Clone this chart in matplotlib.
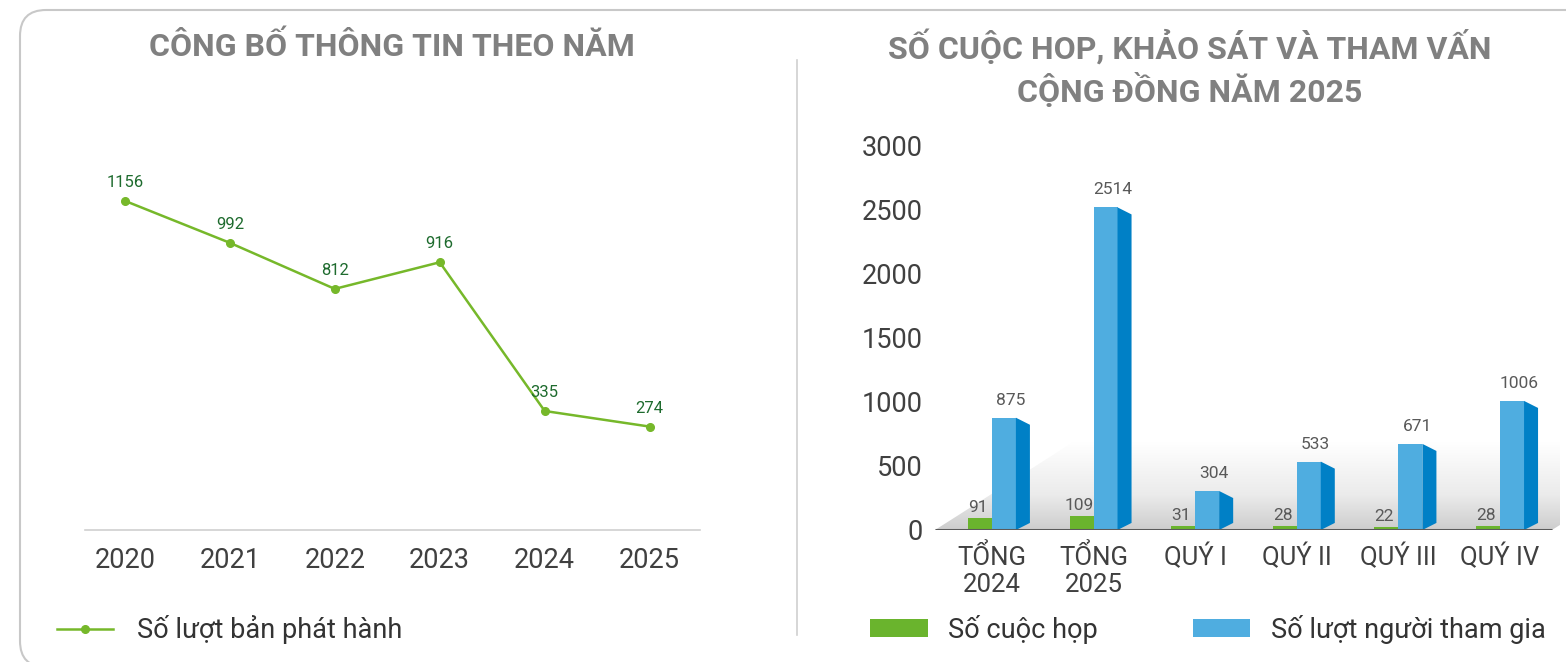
import numpy as np
import matplotlib.pyplot as plt
from matplotlib.patches import Polygon, FancyBboxPatch
from matplotlib.lines import Line2D
from matplotlib.colors import LinearSegmentedColormap
from matplotlib.transforms import IdentityTransform

plt.rcParams['font.family'] = ['Roboto', 'DejaVu Sans']

# left chart data
years = ['2020', '2021', '2022', '2023', '2024', '2025']
releases = [1156, 992, 812, 916, 335, 274]

# right chart data
groups = ['TỔNG\n2024', 'TỔNG\n2025', 'QUÝ I', 'QUÝ II', 'QUÝ III', 'QUÝ IV']
meetings = [91, 109, 31, 28, 22, 28]
participants = [875, 2514, 304, 533, 671, 1006]

W, H = 1566, 662
fig = plt.figure(figsize=(W / 100, H / 100), dpi=100)


def box(l, t, r, b):
    return [l / W, 1 - b / H, (r - l) / W, (b - t) / H]


# outer rounded frame
frame = FancyBboxPatch((20, -5), 1700, 657, boxstyle='round,pad=0,rounding_size=26',
                       transform=IdentityTransform(), fc='none', ec='#c8c8c8', lw=1.5)
fig.add_artist(frame)
fig.add_artist(Line2D([797 / W, 797 / W], [1 - 60 / H, 1 - 635 / H], color='#d0d0d0', lw=1.2))

# ---- left: line chart
ax1 = fig.add_axes(box(85, 100, 700, 530))
x = np.arange(len(years))
ax1.plot(x, releases, color='#76b82a', lw=1.8, marker='o', ms=5.5, label='Số lượt bản phát hành')
for xi, v in zip(x, releases):
    ax1.annotate(str(v), (xi, v), xytext=(0, 11), textcoords='offset pixels',
                 ha='center', va='bottom', fontsize=12, color='#1e6b2e')
ax1.set_xlim(-0.38, 5.48)
ax1.set_ylim(-130, 1550)
for s in ['top', 'left', 'right']:
    ax1.spines[s].set_visible(False)
ax1.spines['bottom'].set_color('#d0d0d0')
ax1.spines['bottom'].set_linewidth(1.2)
ax1.set_xticks(x, years)
ax1.set_yticks([])
ax1.tick_params(axis='x', length=0, pad=12, labelsize=19.5, labelcolor='#404040')
ax1.legend(loc='center left', bbox_to_anchor=(57 / W, 1 - 630 / H), bbox_transform=fig.transFigure,
           frameon=False, fontsize=19.5, labelcolor='#333333', handlelength=2.07,
           handletextpad=0.89, borderpad=0, borderaxespad=0)

fig.text(392 / W, 1 - 47 / H, 'CÔNG BỐ THÔNG TIN THEO NĂM', ha='center', va='center',
         fontsize=23, fontweight='bold', color='#808080')

# ---- right: pseudo-3D bars
ax2 = fig.add_axes(box(935, 145, 1560, 530))
xlo, xhi = -0.56, 5.59
w = 0.236
dx, dy = 0.138, 55
xg = x - w / 2
xb = x + w / 2

# floor with gradient
fh = 680
floor = Polygon([(xlo, 0), (xhi - 0.08, 0), (xhi + 1.3, fh), (xlo + 1.35, fh)],
                closed=True, fc='none', ec='none')
ax2.add_patch(floor)
cmap = LinearSegmentedColormap.from_list('floor', [(0, '#cdcdcd'), (0.4, '#ebebeb'), (1, '#ffffff')])
grad = np.linspace(0, 1, 256).reshape(-1, 1)
im = ax2.imshow(grad, cmap=cmap, extent=(xlo, xhi + 1.5, 0, fh), origin='lower',
                aspect='auto', zorder=1)
im.set_clip_path(floor)

ax2.bar(xg, meetings, w, color='#6ab42d', zorder=3, label='Số cuộc họp')
ax2.bar(xb, participants, w, color='#4fade0', zorder=3, label='Số lượt người tham gia')
for xi, v in zip(xb, participants):
    r = xi + w / 2
    ax2.add_patch(Polygon([(r, 0), (r, v), (r + dx, v - dy), (r + dx, dy)],
                          closed=True, fc='#0080c6', ec='none', zorder=3))
    ax2.annotate(str(v), (xi + dx / 2, v), xytext=(0, 10), textcoords='offset pixels',
                 ha='center', va='bottom', fontsize=12.5, color='#595959')
for xi, v in zip(xg, meetings):
    ax2.annotate(str(v), (xi - 0.02, v), xytext=(0, 3), textcoords='offset pixels',
                 ha='center', va='bottom', fontsize=12.5, color='#595959')
ax2.hlines(0, xlo, xhi - 0.08, color='#5a5a5a', lw=2.2, zorder=4)

ax2.set_xlim(xlo, xhi)
ax2.set_ylim(0, 3000)
for s in ax2.spines.values():
    s.set_visible(False)
ax2.set_yticks(range(0, 3001, 500))
ax2.set_xticks(x, groups)
ax2.tick_params(axis='y', length=0, pad=9, labelsize=19.5, labelcolor='#404040')
ax2.tick_params(axis='x', length=0, pad=10, labelsize=18.5, labelcolor='#404040')
for t in ax2.get_xticklabels():
    t.set_linespacing(1.15)
ax2.legend(loc='center left', bbox_to_anchor=(870 / W, 1 - 629 / H), bbox_transform=fig.transFigure,
           ncol=2, frameon=False, fontsize=19.5, labelcolor='#333333', handlelength=2.14,
           handleheight=0.66, handletextpad=0.74, columnspacing=3.5, borderpad=0, borderaxespad=0)

fig.text(1190 / W, 1 - 68 / H, 'SỐ CUỘC HOP, KHẢO SÁT VÀ THAM VẤN\nCỘNG ĐỒNG NĂM 2025',
         ha='center', va='center', fontsize=23, fontweight='bold', color='#808080', linespacing=1.3)

fig.savefig('out.png', dpi=100)
